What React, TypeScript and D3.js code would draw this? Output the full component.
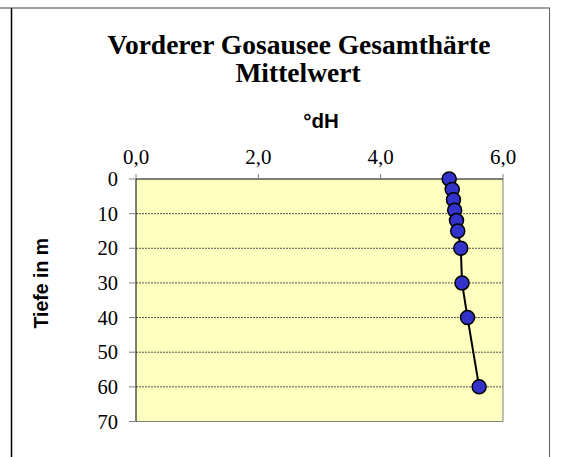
import React from "react";
import * as d3 from "d3";

const depths = [0, 3, 6, 9, 12, 15, 20, 30, 40, 60];
const values = [5.12, 5.17, 5.19, 5.21, 5.24, 5.26, 5.31, 5.33, 5.42, 5.61];
const xTicks = [0, 2, 4, 6];
const yTicks = [0, 10, 20, 30, 40, 50, 60, 70];
const gridTicks = [10, 20, 30, 40, 50, 60];

export default function App() {
  const W = 563, H = 457;
  const left = 136, right = 503, top = 179, bottom = 421.5;
  const x = d3.scaleLinear().domain([0, 6]).range([left, right]);
  const y = d3.scaleLinear().domain([0, 70]).range([top, bottom]);
  const line = d3.line<number>().x((_, i) => x(values[i])).y((d) => y(d));
  const serif = "'Liberation Serif', 'Times New Roman', serif";
  const sans = "'Liberation Sans', Arial, sans-serif";
  const fmt = (v: number) => v.toFixed(1).replace(".", ",");
  return (
    <svg width={W} height={H} style={{ position: "absolute", left: 0, top: 0 }}>
      <rect x={0} y={0} width={W} height={H} fill="#fff" />
      <line x1={0} x2={550} y1={8} y2={8} stroke="#808080" strokeWidth={1.5} />
      <line x1={11.5} x2={11.5} y1={8} y2={H} stroke="#000" strokeWidth={1.5} />
      <line x1={549.5} x2={549.5} y1={8} y2={H} stroke="#606060" strokeWidth={1} />
      <text x={299} y={54} textAnchor="middle" fontFamily={serif} fontWeight="bold" fontSize={27.5}>
        Vorderer Gosausee Gesamthärte
      </text>
      <text x={298} y={82} textAnchor="middle" fontFamily={serif} fontWeight="bold" fontSize={27.5}>
        Mittelwert
      </text>
      <text x={321} y={128} textAnchor="middle" fontFamily={sans} fontWeight="bold" fontSize={20.5}>
        °dH
      </text>
      <text
        transform={`translate(48,${(top + bottom) / 2 - 17}) rotate(-90)`}
        textAnchor="middle"
        fontFamily={sans}
        fontWeight="bold"
        fontSize={19.5}
      >
        Tiefe in m
      </text>
      <rect x={left} y={top} width={right - left} height={bottom - top} fill="#FFFFC0" />
      {gridTicks.map((t) => (
        <line key={t} x1={left} x2={right} y1={y(t)} y2={y(t)} stroke="#555" strokeWidth={1} strokeDasharray="2,1" />
      ))}
      <line x1={right} x2={right} y1={top} y2={bottom} stroke="#808080" strokeWidth={1} />
      <line x1={left} x2={right} y1={bottom} y2={bottom} stroke="#808080" strokeWidth={1} />
      <line x1={left} x2={right} y1={top} y2={top} stroke="#000" strokeWidth={1} />
      <line x1={left} x2={left} y1={top} y2={bottom} stroke="#000" strokeWidth={1} />
      {xTicks.map((t) => (
        <g key={t}>
          <line x1={x(t)} x2={x(t)} y1={top - 5} y2={top} stroke="#808080" />
          <text x={x(t)} y={164} textAnchor="middle" fontFamily={serif} fontSize={21}>
            {fmt(t)}
          </text>
        </g>
      ))}
      {yTicks.map((t) => (
        <g key={t}>
          <line x1={left - 7} x2={left} y1={y(t)} y2={y(t)} stroke="#808080" />
          <text x={118} y={y(t) + 7} textAnchor="end" fontFamily={serif} fontSize={20.5}>
            {t}
          </text>
        </g>
      ))}
      <path d={line(depths) || ""} fill="none" stroke="#000" strokeWidth={2} />
      {depths.map((d, i) => (
        <circle key={i} cx={x(values[i])} cy={y(d)} r={7} fill="#3333CC" stroke="#000" strokeWidth={1.5} />
      ))}
    </svg>
  );
}
